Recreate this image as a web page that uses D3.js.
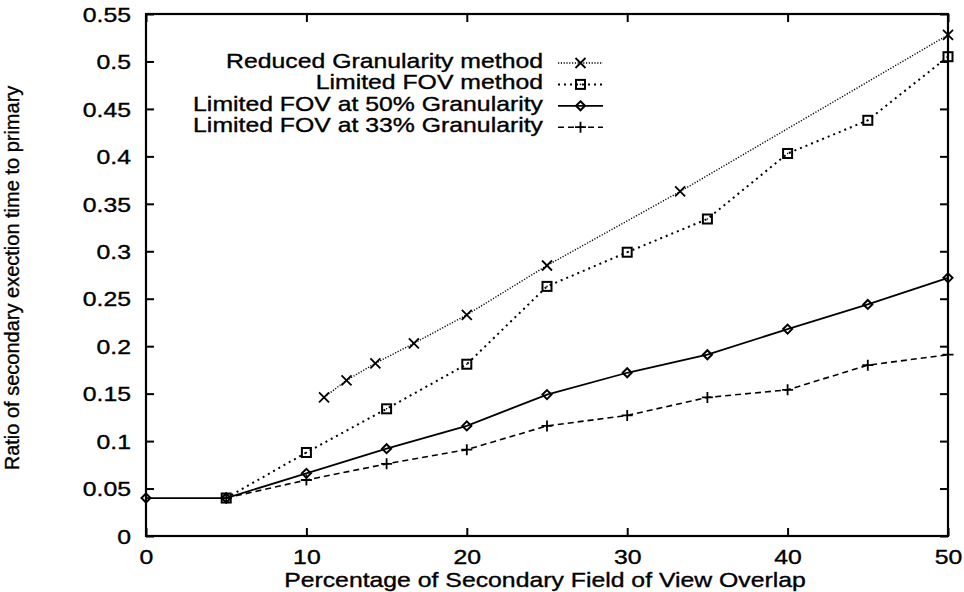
<!DOCTYPE html>
<html>
<head>
<meta charset="utf-8">
<script src="https://cdn.jsdelivr.net/npm/d3@7"></script>
<style>
  html, body { margin: 0; padding: 0; background: #fff; }
  svg { display: block; }
  text { font-family: "Liberation Sans", Arial, Helvetica, sans-serif; fill: #000; stroke: #000; stroke-width: 0.35px; }
</style>
</head>
<body>
<svg id="chart" width="964" height="592"></svg>
<script>
// ---------------- data ----------------
const xTickValues = [0, 10, 20, 30, 40, 50];
const xTickLabels = ["0", "10", "20", "30", "40", "50"];
const yTickValues = [0, 0.05, 0.1, 0.15, 0.2, 0.25, 0.3, 0.35, 0.4, 0.45, 0.5, 0.55];
const yTickLabels = ["0", "0.05", "0.1", "0.15", "0.2", "0.25", "0.3", "0.35", "0.4", "0.45", "0.5", "0.55"];

const seriesNames = [
  "Reduced Granularity method",
  "Limited FOV method",
  "Limited FOV at 50% Granularity",
  "Limited FOV at 33% Granularity"
];

const reducedX = [11.1, 12.5, 14.3, 16.7, 20, 25, 33.3, 50];
const reducedY = [0.146, 0.164, 0.182, 0.203, 0.233, 0.285, 0.363, 0.528];

const limitedFovX = [5, 10, 15, 20, 25, 30, 35, 40, 45, 50];
const limitedFovY = [0.04, 0.088, 0.134, 0.181, 0.263, 0.299, 0.334, 0.403, 0.438, 0.505];

const fov50X = [0, 5, 10, 15, 20, 25, 30, 35, 40, 45, 50];
const fov50Y = [0.04, 0.04, 0.066, 0.092, 0.116, 0.149, 0.172, 0.191, 0.218, 0.244, 0.272];

const fov33X = [5, 10, 15, 20, 25, 30, 35, 40, 45, 50];
const fov33Y = [0.04, 0.059, 0.076, 0.091, 0.116, 0.127, 0.146, 0.154, 0.180, 0.191];

const xLabel = "Percentage of Secondary Field of View Overlap";
const yLabel = "Ratio of secondary exection time to primary";

// ---------------- layout ----------------
const M = { left: 146, top: 14, right: 16, bottom: 56 };
const W = 964 - M.left - M.right;   // 802
const H = 592 - M.top - M.bottom;   // 522
const SX = 1.24;  // horizontal stretch of the scanned lettering
const FS = 20;

const svg = d3.select("#chart");
const g = svg.append("g").attr("transform", `translate(${M.left},${M.top})`);

const x = d3.scaleLinear().domain([0, 50]).range([0, W]);
const y = d3.scaleLinear().domain([0, 0.55]).range([H, 0]);

function stretchText(sel) {
  sel.each(function () {
    const t = d3.select(this);
    const tx = +t.attr("x") || 0;
    const ty = +t.attr("y") || 0;
    t.attr("x", 0).attr("y", 0)
     .attr("transform", `translate(${tx},${ty}) scale(${SX},1)`);
  });
}

// left axis (labels), inward ticks
const yAxis = g.append("g")
  .call(d3.axisLeft(y).tickValues(yTickValues)
    .tickFormat((d, i) => yTickLabels[i]).tickSize(-8).tickPadding(15));
yAxis.select(".domain").remove();
yAxis.selectAll("line").attr("stroke", "#000").attr("stroke-width", 2);
yAxis.selectAll("text").attr("font-size", FS).attr("dy", "0.36em").call(stretchText);

// right axis mirror ticks
const yAxisR = g.append("g").attr("transform", `translate(${W},0)`)
  .call(d3.axisRight(y).tickValues(yTickValues).tickFormat("").tickSize(-8));
yAxisR.select(".domain").remove();
yAxisR.selectAll("line").attr("stroke", "#000").attr("stroke-width", 2);

// bottom axis
const xAxis = g.append("g").attr("transform", `translate(0,${H})`)
  .call(d3.axisBottom(x).tickValues(xTickValues)
    .tickFormat((d, i) => xTickLabels[i]).tickSize(-8).tickPadding(14));
xAxis.select(".domain").remove();
xAxis.selectAll("line").attr("stroke", "#000").attr("stroke-width", 2);
xAxis.selectAll("text").attr("font-size", FS).attr("dy", "0.71em").call(stretchText);

// top mirror ticks
const xAxisT = g.append("g")
  .call(d3.axisTop(x).tickValues(xTickValues).tickFormat("").tickSize(-8));
xAxisT.select(".domain").remove();
xAxisT.selectAll("line").attr("stroke", "#000").attr("stroke-width", 2);

// frame
g.append("rect").attr("x", 0).attr("y", 0).attr("width", W).attr("height", H)
  .attr("fill", "none").attr("stroke", "#000").attr("stroke-width", 2.2);

// axis titles
svg.append("text")
  .attr("text-anchor", "middle")
  .attr("font-size", FS)
  .attr("transform", `translate(${M.left + W / 2 - 2},587) scale(${SX},1)`)
  .text(xLabel);

svg.append("text")
  .attr("text-anchor", "middle")
  .attr("font-size", FS)
  .attr("transform", `translate(19,278) rotate(-90)`)
  .text(yLabel);

// ---------------- series ----------------
const series = [
  { name: seriesNames[0], xs: reducedX, ys: reducedY, dash: "1.2,1.6", width: 1.4, marker: "cross" },
  { name: seriesNames[1], xs: limitedFovX, ys: limitedFovY, dash: "2,4", width: 2, marker: "square" },
  { name: seriesNames[2], xs: fov50X, ys: fov50Y, dash: null, width: 1.8, marker: "diamond" },
  { name: seriesNames[3], xs: fov33X, ys: fov33Y, dash: "6,4", width: 1.6, marker: "plus" }
];

const line = d3.line().x(d => x(d[0])).y(d => y(d[1]));

function drawMarker(sel, type, cx, cy) {
  const m = sel.append("g").attr("transform", `translate(${cx},${cy})`)
    .attr("stroke", "#000").attr("fill", "none").attr("stroke-width", 1.8);
  if (type === "cross") {
    m.append("path").attr("d", "M-5,-5L5,5M-5,5L5,-5");
  } else if (type === "square") {
    m.append("rect").attr("x", -4.5).attr("y", -4.5).attr("width", 9).attr("height", 9).attr("stroke-width", 2);
    m.append("circle").attr("r", 0.8).attr("fill", "#000").attr("stroke", "none");
  } else if (type === "diamond") {
    m.append("path").attr("d", "M0,-4.5L4.5,0L0,4.5L-4.5,0Z").attr("stroke-width", 2);
  } else if (type === "plus") {
    m.append("path").attr("d", "M-5.5,0L5.5,0M0,-5.5L0,5.5");
  }
}

series.forEach(s => {
  const pts = s.xs.map((v, i) => [v, s.ys[i]]);
  g.append("path").datum(pts)
    .attr("d", line)
    .attr("fill", "none")
    .attr("stroke", "#000")
    .attr("stroke-width", s.width)
    .attr("stroke-dasharray", s.dash);
  pts.forEach(p => drawMarker(g, s.marker, x(p[0]), y(p[1])));
});

// ---------------- legend ----------------
const legendX = 543 - M.left;     // right end of text (plot coords)
const sampleX0 = 558 - M.left, sampleX1 = 603 - M.left;
series.forEach((s, i) => {
  const by = 68 - M.top + i * 21.4;
  g.append("text")
    .attr("text-anchor", "end")
    .attr("font-size", FS)
    .attr("transform", `translate(${legendX},${by}) scale(${SX},1)`)
    .text(s.name);
  const ly = by - 5;
  g.append("line").attr("x1", sampleX0).attr("x2", sampleX1).attr("y1", ly).attr("y2", ly)
    .attr("stroke", "#000").attr("stroke-width", s.width).attr("stroke-dasharray", s.dash);
  drawMarker(g, s.marker, (sampleX0 + sampleX1) / 2, ly);
});
</script>
</body>
</html>
